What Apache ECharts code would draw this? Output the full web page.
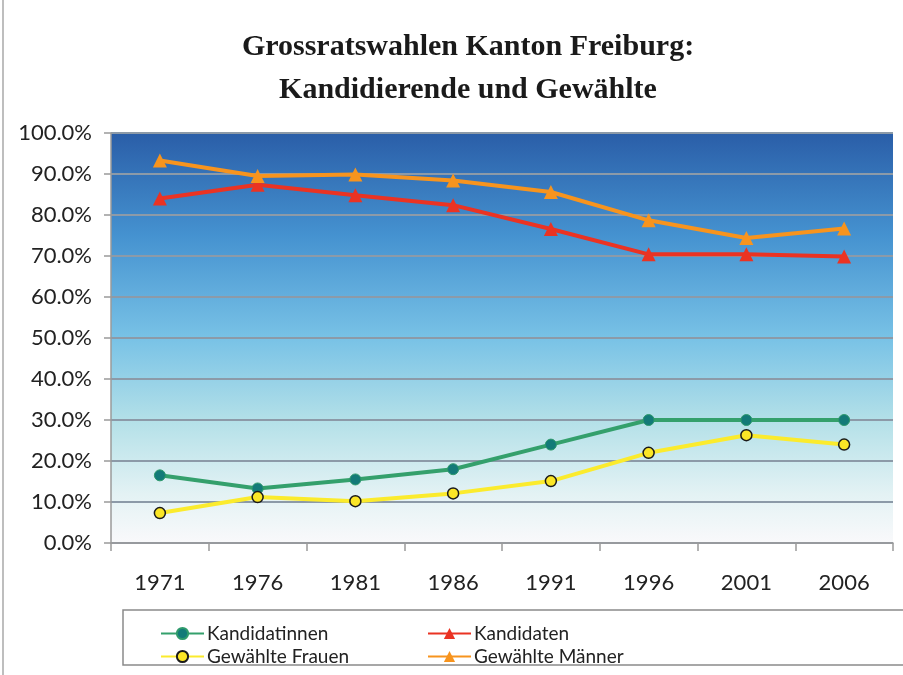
<!DOCTYPE html>
<html lang="de">
<head>
<meta charset="utf-8">
<title>Grossratswahlen Kanton Freiburg</title>
<style>
  * { padding: 0; margin: 0; }
  html, body, #chart { width: 903px; height: 675px; background: #fff; }
</style>
</head>
<body>
<div id="chart"></div>
<script src="https://cdn.jsdelivr.net/npm/echarts@6/dist/echarts.min.js"></script>
<script>
// Daten (Prozent)
var years = ['1971', '1976', '1981', '1986', '1991', '1996', '2001', '2006'];
var kandidatinnen = [16.5, 13.3, 15.5, 18.0, 24.0, 30.0, 30.0, 30.0];
var kandidaten = [84.0, 87.4, 84.8, 82.4, 76.6, 70.4, 70.4, 69.9];
var gewaehlteFrauen = [7.3, 11.2, 10.2, 12.1, 15.1, 22.0, 26.3, 24.0];
var gewaehlteMaenner = [93.3, 89.5, 89.9, 88.4, 85.6, 78.7, 74.4, 76.7];
var yTicks = [0, 10, 20, 30, 40, 50, 60, 70, 80, 90, 100];

var chart = echarts.init(document.getElementById('chart'));

var labelFont = 'Lato, "Open Sans", sans-serif';

function legendItem(name, left, top) {
  return {
    data: [name],
    left: left,
    top: top,
    itemWidth: 43,
    itemHeight: 14,
    padding: 0,
    textStyle: { fontFamily: labelFont, fontSize: 19, color: '#222', padding: [0, 0, 0, -2] },
    selectedMode: false
  };
}

var option = {
  backgroundColor: '#fff',
  animation: false,
  title: {
    text: 'Grossratswahlen Kanton Freiburg:\nKandidierende und Gewählte',
    left: 463,
    textAlign: 'center',
    top: 21,
    textStyle: {
      fontFamily: '"Liberation Serif", "DejaVu Serif", serif',
      fontWeight: 'bold',
      fontSize: 30,
      lineHeight: 43,
      color: '#1a1a1a'
    }
  },
  graphic: [
    { type: 'rect', shape: { x: 123, y: 610, width: 790, height: 55 },
      style: { fill: 'none', stroke: '#8a8a8a', lineWidth: 1.5 }, z: -1 },
    { type: 'line', shape: { x1: 3, y1: 0, x2: 3, y2: 675 },
      style: { stroke: '#a8a8a8', lineWidth: 1.5 } }
  ],
  legend: [
    legendItem('Kandidatinnen', 160, 624),
    legendItem('Kandidaten', 427, 624),
    legendItem('Gewählte Frauen', 160, 647),
    legendItem('Gewählte Männer', 427, 647)
  ],
  grid: {
    left: 111,
    right: 10,
    top: 133,
    bottom: 132,
    show: true,
    borderWidth: 0,
    backgroundColor: new echarts.graphic.LinearGradient(0, 0, 0, 1, [
      { offset: 0, color: '#2a5ea8' },
      { offset: 0.25, color: '#4592d0' },
      { offset: 0.5, color: '#78c2e6' },
      { offset: 0.7, color: '#b3e0e8' },
      { offset: 0.88, color: '#e3f2f4' },
      { offset: 1, color: '#f9f9fb' }
    ])
  },
  xAxis: {
    type: 'category',
    data: years,
    boundaryGap: true,
    axisLine: { lineStyle: { color: '#9a9a9a', width: 1.5 } },
    axisTick: { show: true, length: 8, lineStyle: { color: '#9a9a9a', width: 1.5 } },
    axisLabel: { fontFamily: labelFont, fontSize: 22, color: '#222', margin: 29 }
  },
  yAxis: {
    type: 'value',
    min: 0,
    max: 100,
    interval: 10,
    axisLine: { show: true, lineStyle: { color: '#9a9a9a', width: 1.5 } },
    axisTick: { show: true, length: 7, lineStyle: { color: '#9a9a9a', width: 1.5 } },
    axisLabel: {
      fontFamily: labelFont, fontSize: 22, color: '#222', margin: 19,
      formatter: function (v) { return yTicks.indexOf(v) >= 0 ? v.toFixed(1) + '%' : ''; }
    },
    splitLine: { show: true, lineStyle: { color: '#8c9aa8', width: 2 } }
  },
  series: [
    {
      name: 'Kandidatinnen', type: 'line', data: kandidatinnen,
      symbol: 'circle', symbolSize: 11,
      lineStyle: { color: '#34a06c', width: 4 },
      itemStyle: { color: '#137a78', borderColor: '#2e9a6c', borderWidth: 1 },
      z: 3
    },
    {
      name: 'Kandidaten', type: 'line', data: kandidaten,
      symbol: 'triangle', symbolSize: 14,
      lineStyle: { color: '#ea3323', width: 4 },
      itemStyle: { color: '#ea3323' },
      z: 3
    },
    {
      name: 'Gewählte Frauen', type: 'line', data: gewaehlteFrauen,
      symbol: 'circle', symbolSize: 11,
      lineStyle: { color: '#fbeb2d', width: 4 },
      itemStyle: { color: '#fbe626', borderColor: '#1a1a1a', borderWidth: 1.5 },
      z: 4
    },
    {
      name: 'Gewählte Männer', type: 'line', data: gewaehlteMaenner,
      symbol: 'triangle', symbolSize: 14,
      lineStyle: { color: '#f7941e', width: 4 },
      itemStyle: { color: '#f7941e' },
      z: 3
    }
  ]
};

chart.setOption(option);
</script>
</body>
</html>
